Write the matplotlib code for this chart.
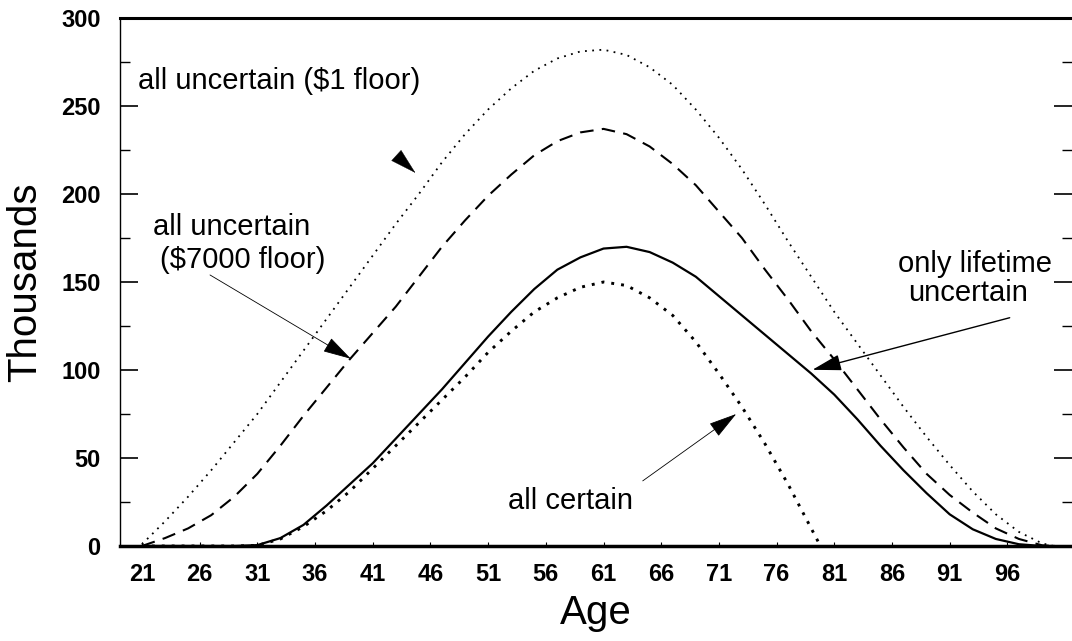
import matplotlib
matplotlib.use("Agg")
import matplotlib.pyplot as plt

plt.rcParams['font.family'] = ['Liberation Sans', 'DejaVu Sans']

# ---- data (thousands) ----
ages = [21, 23, 25, 27, 29, 31, 33, 35, 37, 39, 41, 43, 45, 47, 49, 51, 53, 55, 57, 59,
        61, 63, 65, 67, 69, 71, 73, 75, 77, 79, 81, 83, 85, 87, 89, 91, 93, 95, 97, 99, 100]

floor_1 = [1, 14, 28, 43, 59, 75, 93, 111, 129, 147, 165, 183, 200, 218, 234, 248, 260, 270, 277, 281,
           282, 279, 272, 262, 248, 232, 214, 194, 173, 153, 133, 115, 97, 79, 62, 46, 31, 18, 8, 1.5, 0]

floor_7000 = [0, 4.5, 10, 17.5, 28, 41, 57, 74, 90, 106, 121, 136, 153, 170, 185, 199, 211, 222, 230, 235,
              237, 234, 227, 217, 205, 190, 175, 157, 140, 122, 106, 89, 72, 56, 41, 29, 19, 10, 4, 0.4, 0]

lifetime_only = [0, 0, 0, 0, 0, 0.5, 4.5, 12, 23, 35, 47, 61, 75, 89, 104, 119, 133, 146, 157, 164,
                 169, 170, 167, 161, 153, 142, 131, 120, 109, 98, 86, 72, 57, 43, 30, 18, 9.5, 4, 1, 0, 0]

ages_certain = [21, 23, 25, 27, 29, 31, 33, 35, 37, 39, 41, 43, 45, 47, 49, 51, 53, 55, 57, 59,
                61, 63, 65, 67, 69, 71, 73, 75, 77, 79, 79.8]
all_certain = [0, 0, 0, 0, 0, 0.3, 4, 11, 20, 31, 44, 57, 70, 83, 96, 110, 122, 133, 141, 147,
               150, 148, 141, 131, 116, 98, 79, 58, 35, 10, 0]

xtick_vals = [21, 26, 31, 36, 41, 46, 51, 56, 61, 66, 71, 76, 81, 86, 91, 96]
ytick_vals = [0, 50, 100, 150, 200, 250, 300]
yminor_vals = [25, 75, 125, 175, 225, 275]

# ---- figure ----
W, H = 1072, 641
fig = plt.figure(figsize=(W / 100, H / 100), dpi=100)
left, right, top, bottom = 120, 1072, 18, 546
ax = fig.add_axes([left / W, (H - bottom) / H, (right - left) / W, (bottom - top) / H])

ax.plot(ages, floor_1, color='black', lw=1.3, linestyle=(0, (1, 3)))
ax.plot(ages, floor_7000, color='black', lw=1.5, linestyle=(0, (6.5, 4)))
ax.plot(ages, lifetime_only, color='black', lw=1.6, linestyle='-')
ax.plot(ages_certain, all_certain, color='black', lw=2.1, linestyle=(0, (1, 2.4)))

ax.set_xlim(19.1, 101.6)
ax.set_ylim(0, 300)

ax.set_xticks(xtick_vals)
ax.set_xticklabels([str(v) for v in xtick_vals])
ax.set_yticks(ytick_vals)
ax.set_yticks(yminor_vals, minor=True)

ax.tick_params(axis='x', which='major', direction='in', length=3, width=0.8,
               pad=12, labelsize=17)
ax.tick_params(axis='y', which='major', direction='in', length=13, width=1.2,
               left=True, right=True, pad=14, labelsize=17)
ax.tick_params(axis='y', which='minor', direction='in', length=7, width=1.0,
               left=True, right=True)
for lab in ax.get_xticklabels() + ax.get_yticklabels():
    lab.set_fontweight('bold')

ax.spines['top'].set_linewidth(2.2)
ax.spines['bottom'].set_linewidth(2.5)
ax.spines['left'].set_linewidth(1.0)
ax.spines['right'].set_visible(False)

ax.set_xlabel('Age', fontsize=29, labelpad=6)
ax.set_ylabel('Thousands', fontsize=29, labelpad=12)

# ---- annotations ----
afs = 21
head = dict(arrowstyle='-|>,head_length=0.9,head_width=0.25', color='black',
            mutation_scale=20, shrinkA=0, shrinkB=0)

ax.text(20.7, 264, 'all uncertain ($1 floor)', fontsize=afs, ha='left', va='center')
ax.annotate('', xy=(44.7, 212), xytext=(43.2, 221),
            arrowprops=dict(head, lw=0.3))

ax.text(28.8, 181.5, 'all uncertain', fontsize=afs, ha='center', va='center')
ax.text(29.7, 162.5, '($7000 floor)', fontsize=afs, ha='center', va='center')
ax.annotate('', xy=(39.1, 106.4), xytext=(26.9, 154),
            arrowprops=dict(head, lw=0.6))

ax.text(93.2, 160.4, 'only lifetime', fontsize=afs, ha='center', va='center')
ax.text(92.6, 143.5, 'uncertain', fontsize=afs, ha='center', va='center')
ax.annotate('', xy=(79.1, 100.1), xytext=(96.2, 129.7),
            arrowprops=dict(head, lw=1.0))

ax.text(58.1, 25.4, 'all certain', fontsize=afs, ha='center', va='center')
ax.annotate('', xy=(72.5, 75), xytext=(64.4, 37),
            arrowprops=dict(head, lw=0.6))

fig.savefig('out.png', dpi=100)
